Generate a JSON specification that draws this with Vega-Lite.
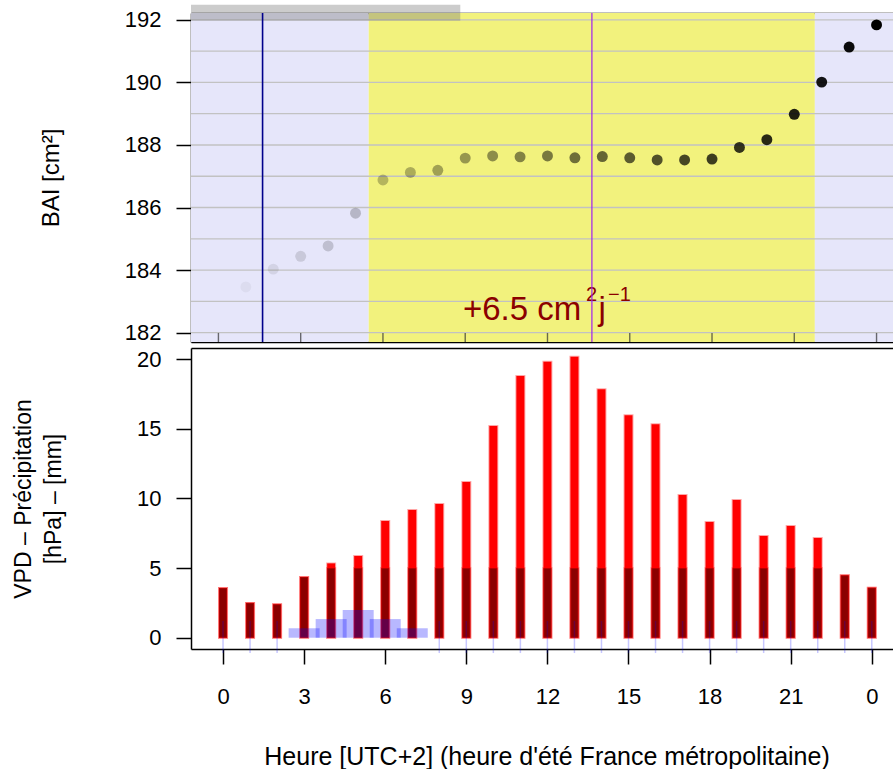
{
  "$schema": "https://vega.github.io/schema/vega-lite/v6.json",
  "autosize": {"type": "pad"},
  "padding": {"left": 11, "top": 4, "right": 0, "bottom": 0},
  "background": "white",
  "spacing": 6,
  "bounds": "flush",
  "config": {
    "view": {"stroke": null},
    "font": "Liberation Sans",
    "text": {"font": "Liberation Sans"},
    "axis": {
      "labelFont": "Liberation Sans",
      "titleFont": "Liberation Sans",
      "labelColor": "black",
      "titleColor": "black",
      "titleFontWeight": "normal",
      "labelFontSize": 22,
      "titleFontSize": 23,
      "domainColor": "black",
      "tickColor": "black",
      "grid": false,
      "zindex": 1,
      "labelFlush": false,
      "labelOverlap": false
    }
  },
  "datasets": {
    "fond": [
      {"debut": -1, "fin": 5.48, "periode": "nuit"},
      {"debut": 5.48, "fin": 21.75, "periode": "jour"},
      {"debut": 21.75, "fin": 25, "periode": "nuit"}
    ],
    "grille": [
      {"g": 182}, {"g": 183}, {"g": 184}, {"g": 185}, {"g": 186}, {"g": 187},
      {"g": 188}, {"g": 189}, {"g": 190}, {"g": 191}, {"g": 192}
    ],
    "graduations": [
      {"h": 0}, {"h": 3}, {"h": 6}, {"h": 9}, {"h": 12}, {"h": 15}, {"h": 18}, {"h": 21}, {"h": 24}
    ],
    "reperes": [
      {"t": 1.61, "type": "minuit solaire"},
      {"t": 13.62, "type": "midi solaire"}
    ],
    "barre": [
      {"debut": -1, "fin": 8.82, "bas": 191.97, "haut": 192.48}
    ],
    "bai": [
      {"h": 1, "b": 183.46}, {"h": 2, "b": 184.03}, {"h": 3, "b": 184.44}, {"h": 4, "b": 184.77},
      {"h": 5, "b": 185.82}, {"h": 6, "b": 186.88}, {"h": 7, "b": 187.12}, {"h": 8, "b": 187.19},
      {"h": 9, "b": 187.58}, {"h": 10, "b": 187.65}, {"h": 11, "b": 187.62}, {"h": 12, "b": 187.65},
      {"h": 13, "b": 187.59}, {"h": 14, "b": 187.63}, {"h": 15, "b": 187.59}, {"h": 16, "b": 187.52},
      {"h": 17, "b": 187.52}, {"h": 18, "b": 187.55}, {"h": 19, "b": 187.92}, {"h": 20, "b": 188.17},
      {"h": 21, "b": 188.98}, {"h": 22, "b": 190.01}, {"h": 23, "b": 191.13}, {"h": 24, "b": 191.84}
    ],
    "annot": [
      {"h": 12, "b": 182.4}
    ],
    "vpd": [
      {"h": 0, "vpd": 3.57, "vpd5": 3.57}, {"h": 1, "vpd": 2.5, "vpd5": 2.5}, {"h": 2, "vpd": 2.4, "vpd5": 2.4},
      {"h": 3, "vpd": 4.36, "vpd5": 4.36}, {"h": 4, "vpd": 5.34, "vpd5": 5}, {"h": 5, "vpd": 5.87, "vpd5": 5},
      {"h": 6, "vpd": 8.38, "vpd5": 5}, {"h": 7, "vpd": 9.17, "vpd5": 5}, {"h": 8, "vpd": 9.6, "vpd5": 5},
      {"h": 9, "vpd": 11.19, "vpd5": 5}, {"h": 10, "vpd": 15.21, "vpd5": 5}, {"h": 11, "vpd": 18.8, "vpd5": 5},
      {"h": 12, "vpd": 19.83, "vpd5": 5}, {"h": 13, "vpd": 20.19, "vpd5": 5}, {"h": 14, "vpd": 17.84, "vpd5": 5},
      {"h": 15, "vpd": 15.98, "vpd5": 5}, {"h": 16, "vpd": 15.33, "vpd5": 5}, {"h": 17, "vpd": 10.25, "vpd5": 5},
      {"h": 18, "vpd": 8.31, "vpd5": 5}, {"h": 19, "vpd": 9.89, "vpd5": 5}, {"h": 20, "vpd": 7.31, "vpd5": 5},
      {"h": 21, "vpd": 8.03, "vpd5": 5}, {"h": 22, "vpd": 7.16, "vpd5": 5}, {"h": 23, "vpd": 4.48, "vpd5": 4.48},
      {"h": 24, "vpd": 3.59, "vpd5": 3.59}
    ],
    "pluie": [
      {"h": 3, "p": 0.68}, {"h": 4, "p": 1.34}, {"h": 5, "p": 1.99}, {"h": 6, "p": 1.34}, {"h": 7, "p": 0.68}
    ],
    "ebar": [
      {"h": 0, "lo": -1.1, "hi": 1.2}, {"h": 1, "lo": -1.1, "hi": 1.2}, {"h": 2, "lo": -1.1, "hi": 1.2},
      {"h": 8, "lo": -1.1, "hi": 1.2}, {"h": 9, "lo": -1.1, "hi": 1.2}, {"h": 10, "lo": -1.1, "hi": 1.2},
      {"h": 11, "lo": -1.1, "hi": 1.2}, {"h": 12, "lo": -1.1, "hi": 1.2}, {"h": 13, "lo": -1.1, "hi": 1.2},
      {"h": 14, "lo": -1.1, "hi": 1.2}, {"h": 15, "lo": -1.1, "hi": 1.2}, {"h": 16, "lo": -1.1, "hi": 1.2},
      {"h": 17, "lo": -1.1, "hi": 1.2}, {"h": 18, "lo": -1.1, "hi": 1.2}, {"h": 19, "lo": -1.1, "hi": 1.2},
      {"h": 20, "lo": -1.1, "hi": 1.2}, {"h": 21, "lo": -1.1, "hi": 1.2}, {"h": 22, "lo": -1.1, "hi": 1.2},
      {"h": 23, "lo": -1.1, "hi": 1.2}, {"h": 24, "lo": -1.1, "hi": 1.2}
    ]
  },
  "vconcat": [
    {
      "width": 702,
      "height": 329,
      "resolve": {"axis": {"x": "independent", "y": "independent"}},
      "layer": [
        {
          "data": {"name": "fond"},
          "mark": {"type": "rect", "clip": true},
          "encoding": {
            "x": {"field": "debut", "type": "quantitative",
                  "scale": {"domain": [-1, 24.6], "nice": false, "zero": false},
                  "axis": {"orient": "top", "labels": false, "ticks": false, "domainWidth": 1.5, "title": null}},
            "x2": {"field": "fin"},
            "fill": {"field": "periode", "type": "nominal",
                     "scale": {"domain": ["nuit", "jour"], "range": ["#E6E6FA", "#F2F27D"]}, "legend": null}
          }
        },
        {
          "data": {"name": "grille"},
          "mark": {"type": "rule", "color": "#C2C2C2", "strokeWidth": 1.3},
          "encoding": {
            "y": {"field": "g", "type": "quantitative",
                  "scale": {"domain": [181.7, 192.22], "nice": false, "zero": false},
                  "axis": {"orient": "left", "values": [182, 184, 186, 188, 190, 192], "tickSize": 15, "labelPadding": 15,
                           "tickWidth": 1.5, "domainWidth": 1.5,
                           "title": "BAI [cm²]", "titleX": -140, "titleY": 164.5, "titleFontSize": 24,
                           "titleBaseline": "middle", "titleAngle": -90, "titleAlign": "center"}}
          }
        },
        {
          "data": {"name": "graduations"},
          "mark": {"type": "rule", "color": "#303030", "opacity": 0.7, "strokeWidth": 1.4},
          "encoding": {
            "x": {"field": "h", "type": "quantitative", "axis": null, "title": null},
            "y": {"datum": 181.7},
            "y2": {"datum": 181.99}
          }
        },
        {
          "data": {"name": "barre"},
          "mark": {"type": "rect", "clip": false, "color": "#7F7F7F", "opacity": 0.4},
          "encoding": {
            "x": {"field": "debut", "type": "quantitative",
                  "axis": {"orient": "bottom", "labels": false, "ticks": false, "domainWidth": 1.5, "title": null}},
            "x2": {"field": "fin"},
            "y": {"field": "bas", "type": "quantitative", "axis": null, "title": null},
            "y2": {"field": "haut"}
          }
        },
        {
          "data": {"name": "bai"},
          "mark": {"type": "circle", "size": 120, "color": "black"},
          "encoding": {
            "x": {"field": "h", "type": "quantitative", "axis": null, "title": null},
            "y": {"field": "b", "type": "quantitative", "axis": null, "title": null},
            "opacity": {"field": "h", "type": "quantitative",
                        "scale": {"domain": [0, 24], "range": [0, 1]}, "legend": null}
          }
        },
        {
          "data": {"name": "annot"},
          "mark": {"type": "text", "text": "+6.5 cm", "align": "left", "baseline": "alphabetic",
                   "dx": -84.5, "fontSize": 33, "color": "#8B0000", "font": "Liberation Sans"},
          "encoding": {
            "x": {"field": "h", "type": "quantitative", "axis": null, "title": null},
            "y": {"field": "b", "type": "quantitative", "axis": null, "title": null}
          }
        },
        {
          "data": {"name": "annot"},
          "mark": {"type": "text", "text": "2", "align": "left", "baseline": "alphabetic",
                   "dx": 38.5, "dy": -19, "fontSize": 20, "color": "#8B0000", "font": "Liberation Sans"},
          "encoding": {
            "x": {"field": "h", "type": "quantitative", "axis": null, "title": null},
            "y": {"field": "b", "type": "quantitative", "axis": null, "title": null}
          }
        },
        {
          "data": {"name": "annot"},
          "mark": {"type": "text", "text": "j", "align": "left", "baseline": "alphabetic",
                   "dx": 51, "fontSize": 33, "color": "#8B0000", "font": "Liberation Sans"},
          "encoding": {
            "x": {"field": "h", "type": "quantitative", "axis": null, "title": null},
            "y": {"field": "b", "type": "quantitative", "axis": null, "title": null}
          }
        },
        {
          "data": {"name": "annot"},
          "mark": {"type": "text", "text": "−1", "align": "left", "baseline": "alphabetic",
                   "dx": 60.5, "dy": -19, "fontSize": 20, "color": "#8B0000", "font": "Liberation Sans"},
          "encoding": {
            "x": {"field": "h", "type": "quantitative", "axis": null, "title": null},
            "y": {"field": "b", "type": "quantitative", "axis": null, "title": null}
          }
        },
        {
          "data": {"name": "reperes"},
          "transform": [{"filter": "datum.type == 'minuit solaire'"}],
          "mark": {"type": "rule", "color": "#00008B", "strokeWidth": 1.6},
          "encoding": {
            "x": {"field": "t", "type": "quantitative", "axis": null, "title": null}
          }
        },
        {
          "data": {"name": "reperes"},
          "transform": [{"filter": "datum.type == 'midi solaire'"}],
          "mark": {"type": "rule", "color": "#A020F0", "strokeWidth": 1.2},
          "encoding": {
            "x": {"field": "t", "type": "quantitative", "axis": null, "title": null}
          }
        }
      ]
    },
    {
      "width": 702,
      "height": 301,
      "resolve": {"axis": {"x": "independent", "y": "independent"}},
      "layer": [
        {
          "data": {"name": "vpd"},
          "mark": {"type": "bar", "size": 8, "color": "#FF0000", "stroke": "#FF0000",
                   "strokeOpacity": 0.35, "strokeWidth": 2},
          "encoding": {
            "x": {"field": "h", "type": "quantitative",
                  "scale": {"domain": [-1, 24.6], "nice": false, "zero": false},
                  "axis": {"orient": "bottom", "values": [0, 3, 6, 9, 12, 15, 18, 21, 24],
                           "labelExpr": "datum.value == 24 ? '0' : datum.label",
                           "tickSize": 15, "labelPadding": 22, "tickWidth": 1.5, "domainWidth": 1.5,
                           "title": "Heure [UTC+2] (heure d'été France métropolitaine)", "titleFontSize": 25,
                           "titleX": 355.5, "titleY": 115, "titleBaseline": "alphabetic", "titleAlign": "center"}},
            "y": {"field": "vpd", "type": "quantitative",
                  "scale": {"domain": [-0.81, 20.81], "nice": false, "zero": false},
                  "axis": {"orient": "left", "values": [0, 5, 10, 15, 20], "tickSize": 15, "labelPadding": 15,
                           "tickWidth": 1.5, "domainWidth": 1.5,
                           "title": ["VPD – Précipitation", "[hPa] – [mm]"],
                           "titleX": -168, "titleY": 150.5, "titleBaseline": "middle",
                           "titleAngle": -90, "titleAlign": "center", "titleLineHeight": 30}},
            "y2": {"datum": 0}
          }
        },
        {
          "data": {"name": "vpd"},
          "mark": {"type": "bar", "size": 8, "color": "#8B0000", "stroke": "#FF0000",
                   "strokeOpacity": 0.3, "strokeWidth": 2},
          "encoding": {
            "x": {"field": "h", "type": "quantitative", "axis": null, "title": null},
            "y": {"field": "vpd5", "type": "quantitative", "axis": null, "title": null},
            "y2": {"datum": 0}
          }
        },
        {
          "data": {"name": "pluie"},
          "mark": {"type": "bar", "size": 31, "color": "#0000FF", "opacity": 0.28},
          "encoding": {
            "x": {"field": "h", "type": "quantitative",
                  "axis": {"orient": "top", "labels": false, "ticks": false, "domainWidth": 1.5, "title": null}},
            "y": {"field": "p", "type": "quantitative", "axis": null, "title": null},
            "y2": {"datum": 0}
          }
        },
        {
          "data": {"name": "ebar"},
          "mark": {"type": "rule", "color": "#0000FF", "opacity": 0.22, "strokeWidth": 1.5, "clip": false},
          "encoding": {
            "x": {"field": "h", "type": "quantitative", "axis": null, "title": null},
            "y": {"field": "lo", "type": "quantitative", "axis": null, "title": null},
            "y2": {"field": "hi"}
          }
        }
      ]
    }
  ]
}
